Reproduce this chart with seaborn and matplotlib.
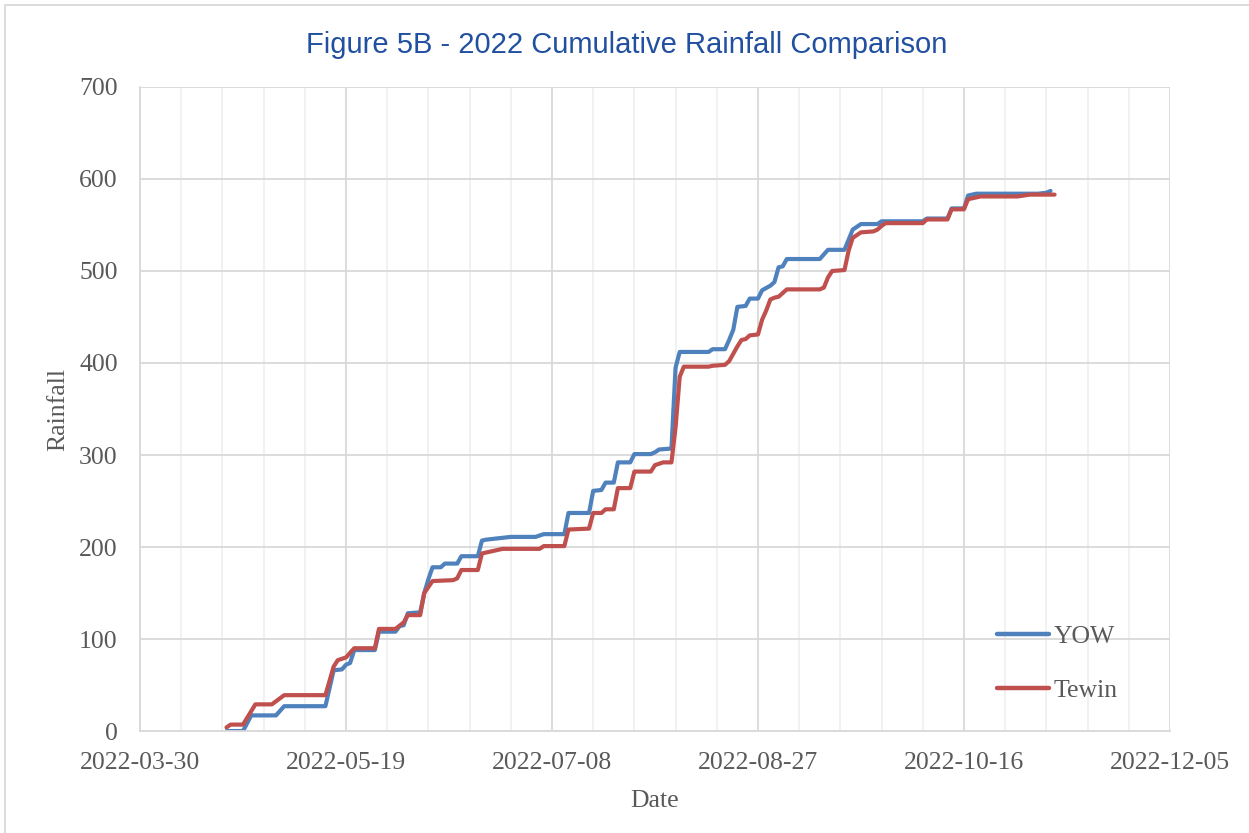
#!/usr/bin/env python3
"""
Cumulative rainfall comparison plot (YOW vs Tewin, 2022).
"""

import pandas as pd
import matplotlib
matplotlib.use("Agg")
import matplotlib.pyplot as plt
import matplotlib.dates as mdates
from matplotlib.patches import Rectangle
import seaborn as sns

# --- data (cumulative rainfall, breakpoints) ---
yow_dates = [
    "2022-04-20", "2022-04-24", "2022-04-26", "2022-05-02", "2022-05-04",
    "2022-05-14", "2022-05-16", "2022-05-18", "2022-05-19", "2022-05-20",
    "2022-05-21", "2022-05-26", "2022-05-27", "2022-05-31", "2022-06-01",
    "2022-06-02", "2022-06-03", "2022-06-06", "2022-06-07", "2022-06-08",
    "2022-06-09", "2022-06-11", "2022-06-12", "2022-06-15", "2022-06-16",
    "2022-06-20", "2022-06-21", "2022-06-22", "2022-06-24", "2022-06-28",
    "2022-07-04", "2022-07-06", "2022-07-11", "2022-07-12", "2022-07-17",
    "2022-07-18", "2022-07-20", "2022-07-21", "2022-07-23", "2022-07-24",
    "2022-07-27", "2022-07-28", "2022-08-01", "2022-08-02", "2022-08-03",
    "2022-08-06", "2022-08-07", "2022-08-08", "2022-08-15", "2022-08-16",
    "2022-08-19", "2022-08-20", "2022-08-21", "2022-08-22", "2022-08-24",
    "2022-08-25", "2022-08-27", "2022-08-28", "2022-08-30", "2022-08-31",
    "2022-09-01", "2022-09-02", "2022-09-03", "2022-09-11", "2022-09-13",
    "2022-09-17", "2022-09-18", "2022-09-19", "2022-09-21", "2022-09-25",
    "2022-09-26", "2022-10-06", "2022-10-07", "2022-10-12", "2022-10-13",
    "2022-10-16", "2022-10-17", "2022-10-19", "2022-11-03", "2022-11-05",
    "2022-11-06",
]
yow_rain = [
    0, 0, 17, 17, 27,
    27, 66, 67, 72, 74,
    88, 88, 108, 108, 114,
    115, 128, 129, 150, 165,
    178, 178, 182, 182, 190,
    190, 207, 208, 209, 211,
    211, 214, 214, 237, 237,
    261, 262, 270, 270, 292,
    292, 301, 301, 303, 306,
    307, 395, 412, 412, 415,
    415, 425, 436, 461, 462,
    470, 470, 479, 484, 488,
    504, 505, 513, 513, 523,
    523, 534, 545, 551, 551,
    554, 554, 557, 557, 568,
    568, 582, 584, 584, 585,
    587,
]

tewin_dates = [
    "2022-04-20", "2022-04-21", "2022-04-24", "2022-04-27", "2022-05-01",
    "2022-05-04", "2022-05-14", "2022-05-16", "2022-05-17", "2022-05-19",
    "2022-05-21", "2022-05-26", "2022-05-27", "2022-05-31", "2022-06-02",
    "2022-06-03", "2022-06-06", "2022-06-07", "2022-06-09", "2022-06-14",
    "2022-06-15", "2022-06-16", "2022-06-20", "2022-06-21", "2022-06-23",
    "2022-06-26", "2022-07-05", "2022-07-06", "2022-07-11", "2022-07-12",
    "2022-07-17", "2022-07-18", "2022-07-20", "2022-07-21", "2022-07-23",
    "2022-07-24", "2022-07-27", "2022-07-28", "2022-08-01", "2022-08-02",
    "2022-08-04", "2022-08-06", "2022-08-07", "2022-08-08", "2022-08-09",
    "2022-08-15", "2022-08-16", "2022-08-19", "2022-08-20", "2022-08-21",
    "2022-08-22", "2022-08-23", "2022-08-24", "2022-08-25", "2022-08-27",
    "2022-08-28", "2022-08-29", "2022-08-30", "2022-08-31", "2022-09-01",
    "2022-09-03", "2022-09-11", "2022-09-12", "2022-09-13", "2022-09-14",
    "2022-09-17", "2022-09-18", "2022-09-19", "2022-09-21", "2022-09-24",
    "2022-09-25", "2022-09-26", "2022-09-27", "2022-10-06", "2022-10-07",
    "2022-10-12", "2022-10-13", "2022-10-16", "2022-10-17", "2022-10-20",
    "2022-10-29", "2022-11-01", "2022-11-07",
]
tewin_rain = [
    4, 7, 7, 29, 29,
    39, 39, 70, 77, 80,
    90, 90, 111, 111, 118,
    126, 126, 150, 163, 164,
    166, 175, 175, 193, 195,
    198, 198, 201, 201, 219,
    220, 237, 237, 241, 241,
    264, 264, 282, 282, 289,
    292, 292, 330, 385, 396,
    396, 397, 398, 402, 410,
    418, 425, 426, 430, 431,
    447, 457, 469, 471, 472,
    480, 480, 482, 493, 500,
    501, 522, 536, 542, 543,
    545, 549, 552, 552, 556,
    556, 567, 567, 578, 581,
    581, 583, 583,
]

stations = ["YOW", "Tewin"]
colors = ["#4F81BD", "#C0504D"]
x_start, x_end = "2022-03-30", "2022-12-05"
y_ticks = [0, 100, 200, 300, 400, 500, 600, 700]


def build_frame():
    """Long-form table for seaborn."""
    yow = pd.DataFrame({"Date": pd.to_datetime(yow_dates), "Rainfall": yow_rain, "Station": "YOW"})
    tew = pd.DataFrame({"Date": pd.to_datetime(tewin_dates), "Rainfall": tewin_rain, "Station": "Tewin"})
    return pd.concat([yow, tew], ignore_index=True)


def main():
    df = build_frame()

    sns.set_style("white")
    plt.rcParams["font.family"] = ["Liberation Serif", "DejaVu Serif"]

    fig = plt.figure(figsize=(12.49, 8.33), dpi=100)
    ax = fig.add_axes([0.1121, 0.1224, 0.8246, 0.7732])

    sns.lineplot(data=df, x="Date", y="Rainfall", hue="Station",
                 hue_order=stations, palette=colors, linewidth=3.0,
                 estimator=None, ax=ax)

    # axes ranges and ticks
    major = pd.date_range(x_start, x_end, freq="50D")
    minor = pd.date_range(x_start, x_end, freq="10D")
    ax.set_xlim(pd.Timestamp(x_start), pd.Timestamp(x_end))
    ax.set_ylim(0, 700)
    ax.set_xticks(major)
    ax.set_xticks(minor, minor=True)
    ax.set_yticks(y_ticks)
    ax.xaxis.set_major_formatter(mdates.DateFormatter("%Y-%m-%d"))

    ax.grid(True, which="major", color="#D9D9D9", linewidth=1.3)
    ax.grid(True, which="minor", axis="x", color="#F0F0F0", linewidth=1.3)
    ax.set_axisbelow(True)
    for side in ["top", "right"]:
        ax.spines[side].set_visible(False)
    for side in ["left", "bottom"]:
        ax.spines[side].set_color("#D9D9D9")
        ax.spines[side].set_linewidth(1.3)

    ax.tick_params(axis="both", which="both", length=0, labelsize=18.5, labelcolor="#595959")
    ax.tick_params(axis="x", pad=15)
    ax.tick_params(axis="y", pad=16)

    ax.set_xlabel("Date", fontsize=18.5, color="#595959")
    ax.set_ylabel("Rainfall", fontsize=18.5, color="#595959")
    ax.xaxis.set_label_coords(0.5, -0.091)
    ax.yaxis.set_label_coords(-0.069, 0.5)

    leg = ax.legend(loc="upper left", bbox_to_anchor=(0.81, 0.2), frameon=False,
                    fontsize=18.5, handlelength=2.0, handletextpad=0.2, labelspacing=1.2)
    for text in leg.get_texts():
        text.set_color("#595959")
    for line in leg.get_lines():
        line.set_linewidth(3.2)

    fig.text(0.502, 0.946, "Figure 5B - 2022 Cumulative Rainfall Comparison",
             ha="center", va="center", fontsize=21, color="#2150A0",
             family=["Liberation Sans", "DejaVu Sans"])

    # thin frame around the whole chart area
    fig.patches.append(Rectangle((0.004, -0.01), 1.5, 1.004, transform=fig.transFigure,
                                 fill=False, edgecolor="#D9D9D9", linewidth=1.3))

    fig.savefig("out.png", dpi=100)
    plt.close(fig)
    print("saved out.png")


if __name__ == "__main__":
    main()
